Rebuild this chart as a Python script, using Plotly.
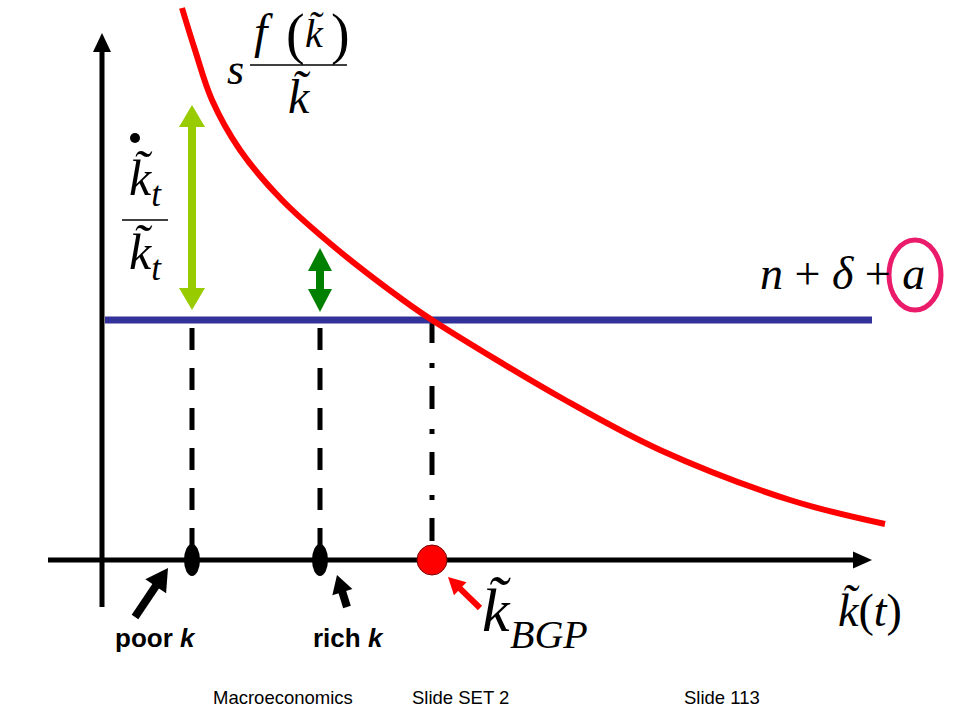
import math
import plotly.graph_objects as go

# ---- data (k on horizontal axis, growth rate on vertical axis; origin at axes crossing) ----
curve_k = [80, 93, 110, 138, 180, 236, 301, 330, 463, 558, 688, 783]
curve_g = [552, 510, 460, 410, 360, 310, 260, 240, 160, 110, 60, 36]
breakeven_level = 240          # n + delta + a
breakeven_k_range = [3, 770]
k_poor = 90
k_rich = 218
k_bgp = 330
gap_poor = [455, 250]          # growth gap arrow (poor)
gap_rich = [312, 248]          # growth gap arrow (rich)
footer_labels = ["Macroeconomics", "Slide SET 2", "Slide 113"]
footer_x = [181, 358, 620]

SERIF = "Liberation Serif, Times New Roman, serif"
SANS = "Liberation Sans, Arial, sans-serif"

shapes = []
annotations = []


def line(x0, y0, x1, y1, color, width, dash=None, layer="above"):
    d = dict(type="line", x0=x0, y0=y0, x1=x1, y1=y1, layer=layer,
             line=dict(color=color, width=width))
    if dash:
        d["line"]["dash"] = dash
    shapes.append(d)


def head(tx, ty, ux, uy, hl, hw, color):
    bx, by = tx - ux * hl, ty - uy * hl
    px, py = -uy, ux
    p = (f"M{tx},{ty} L{bx + px * hw / 2},{by + py * hw / 2} "
         f"L{bx - px * hw / 2},{by - py * hw / 2} Z")
    shapes.append(dict(type="path", path=p, fillcolor=color, line=dict(width=0), layer="above"))


def arrow(x0, y0, x1, y1, color, w, hl, hw, both=False):
    dx, dy = x1 - x0, y1 - y0
    L = math.hypot(dx, dy)
    ux, uy = dx / L, dy / L
    sx, sy = (x0 + ux * hl * 0.8, y0 + uy * hl * 0.8) if both else (x0, y0)
    ex, ey = x1 - ux * hl * 0.8, y1 - uy * hl * 0.8
    line(sx, sy, ex, ey, color, w)
    head(x1, y1, ux, uy, hl, hw, color)
    if both:
        head(x0, y0, -ux, -uy, hl, hw, color)


# dashed guides
line(k_poor, breakeven_level - 8, k_poor, 12, "black", 5, "22px,18px", layer="below")
line(k_rich, breakeven_level - 8, k_rich, 12, "black", 5, "22px,18px", layer="below")
line(k_bgp, breakeven_level, k_bgp, 14, "black", 5, "23px,20px,5px,18px", layer="below")

# axes
arrow(0, -47, 0, 527, "black", 5, 19, 18)
arrow(-54, 0, 770, 0, "black", 5, 19, 17)

# growth gap arrows
arrow(k_poor, gap_poor[0], k_poor, gap_poor[1], "#99CC00", 8, 22, 26, both=True)
arrow(k_rich, gap_rich[0], k_rich, gap_rich[1], "#008000", 8, 23, 24, both=True)

# markers on horizontal axis
for kk in (k_poor, k_rich):
    shapes.append(dict(type="circle", x0=kk - 8, x1=kk + 8, y0=-16, y1=16,
                       fillcolor="black", line=dict(width=0), layer="above"))
shapes.append(dict(type="circle", x0=k_bgp - 15, x1=k_bgp + 15, y0=-15, y1=15,
                   fillcolor="#FF0000", line=dict(color="#7A0000", width=1), layer="above"))

# pointer arrows
arrow(33, -57, 66, -8, "black", 8, 22, 25)
arrow(245, -47, 235, -15, "black", 8, 18, 21)
arrow(378, -48, 346, -17, "#FF0000", 6, 17, 18)

# pink ellipse around a
shapes.append(dict(type="circle", x0=813 - 26, x1=813 + 26, y0=285 - 35, y1=285 + 35,
                   line=dict(color="#EA1B6A", width=5), layer="above"))

# fraction bars and dot
line(148, 495, 245, 495, "black", 1.5)
line(20, 340, 66, 340, "black", 1.5)
shapes.append(dict(type="circle", x0=28, x1=38, y0=417, y1=427,
                   fillcolor="black", line=dict(width=0), layer="above"))


def text(x, y, s, size, family=SERIF, xanchor="center"):
    annotations.append(dict(x=x, y=y, xref="x", yref="y", text=s, showarrow=False,
                            xanchor=xanchor, yanchor="middle", borderpad=0,
                            font=dict(family=family, size=size, color="black")))


# s f(k)/k
text(133, 491, "<i>s</i>", 44)
text(161, 529, "<i>f</i>", 48)
text(193, 526, "(", 56)
text(212, 527, "<i>k\u0303</i>", 40)
text(238, 526, ")", 56)
text(197, 464, "<i>k\u0303</i>", 48)
# kdot / k
text(43, 378, "<i>k\u0303</i><sub><i>t</i></sub>", 50)
text(43, 304, "<i>k\u0303</i><sub><i>t</i></sub>", 50)
# n + delta + a
text(740, 287, "<i>n</i> + <i>δ</i> + <i>a</i>", 46)
# k_BGP
text(394, -50, "<i>k\u0303</i>", 62)
text(447, -74, "<i>BGP</i>", 40)
# k(t)
text(768, -50, "<i>k\u0303</i>(<i>t</i>)", 46)
# poor / rich
text(53, -78, "<b>poor <i>k</i></b>", 26, SANS)
text(246, -78, "<b>rich <i>k</i></b>", 26, SANS)
# footer
for lab, fx in zip(footer_labels, footer_x):
    text(fx, -137, lab, 18.5, SANS)

fig = go.Figure()
fig.add_trace(go.Scatter(x=breakeven_k_range, y=[breakeven_level] * 2, mode="lines",
                         line=dict(color="#32329A", width=7), hoverinfo="skip"))
fig.add_trace(go.Scatter(x=curve_k, y=curve_g, mode="lines",
                         line=dict(color="#FF0000", width=6, shape="spline"), hoverinfo="skip"))

fig.update_layout(
    width=960, height=720, margin=dict(l=0, r=0, t=0, b=0),
    paper_bgcolor="white", plot_bgcolor="white", showlegend=False,
    xaxis=dict(range=[-102, 858], visible=False, fixedrange=True),
    yaxis=dict(range=[-160, 560], visible=False, fixedrange=True),
    shapes=shapes, annotations=annotations,
)
fig.write_html("out.html", config={"displayModeBar": False},
               post_script="document.body.style.margin='0';")
